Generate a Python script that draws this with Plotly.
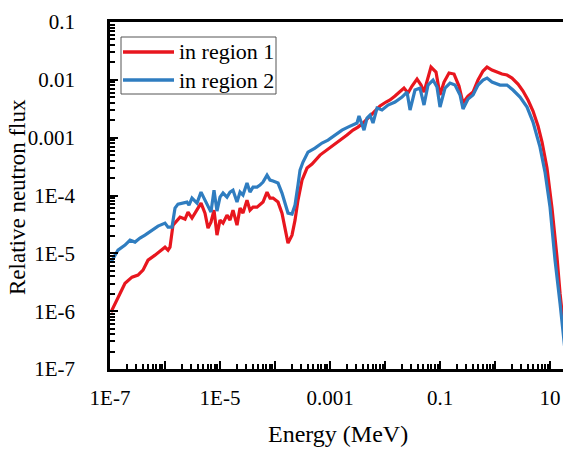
import numpy as np
import plotly.graph_objects as go

# Values, stored as log10 exponents
log_energy_r1 = [-6.982, -6.855, -6.727, -6.600, -6.491, -6.400, -6.309, -6.182, -6.055, -6.000,
                 -5.945, -5.909, -5.855, -5.782, -5.727, -5.636, -5.582, -5.509, -5.418, -5.345,
                 -5.273, -5.218, -5.164, -5.109, -5.055, -5.000, -4.945, -4.873, -4.818, -4.764,
                 -4.691, -4.636, -4.582, -4.509, -4.455, -4.400, -4.327, -4.273, -4.218, -4.145,
                 -4.091, -4.036, -3.945, -3.873, -3.818, -3.764, -3.691, -3.636, -3.582, -3.509,
                 -3.418, -3.327, -3.182, -3.055, -2.945, -2.818, -2.691, -2.582, -2.491, -2.400,
                 -2.309, -2.218, -2.091, -1.982, -1.909, -1.818, -1.727, -1.655, -1.582, -1.509,
                 -1.418, -1.345, -1.291, -1.236, -1.164, -1.073, -1.000, -0.927, -0.836, -0.745,
                 -0.655, -0.582, -0.491, -0.400, -0.309, -0.218, -0.145, -0.055, 0.036, 0.127,
                 0.218, 0.309, 0.418, 0.509, 0.600, 0.691, 0.782, 0.855, 0.945, 1.036,
                 1.127, 1.182, 1.273]
log_flux_r1 = [-6.017, -5.758, -5.516, -5.412, -5.377, -5.291, -5.118, -5.031, -4.945, -4.893,
               -4.945, -4.893, -4.512, -4.426, -4.374, -4.408, -4.287, -4.391, -4.253, -4.131,
               -4.305, -4.564, -4.460, -4.253, -4.685, -4.426, -4.478, -4.339, -4.426, -4.253,
               -4.512, -4.218, -4.304, -4.080, -4.253, -4.201, -4.201, -4.166, -4.114, -3.941,
               -4.045, -4.045, -4.114, -4.305, -4.547, -4.824, -4.685, -4.426, -4.080, -3.734,
               -3.526, -3.457, -3.301, -3.215, -3.128, -3.042, -2.955, -2.869, -2.817, -2.747,
               -2.661, -2.574, -2.453, -2.384, -2.349, -2.280, -2.211, -2.142, -2.228, -2.107,
               -1.986, -2.090, -2.211, -2.003, -1.779, -1.865, -2.263, -2.038, -1.882, -1.900,
               -2.107, -2.401, -2.280, -2.211, -2.003, -1.848, -1.779, -1.830, -1.865, -1.900,
               -1.917, -1.969, -2.073, -2.194, -2.349, -2.540, -2.799, -3.076, -3.526, -4.218,
               -5.066, -5.689, -6.502]

log_energy_r2 = [-6.982, -6.855, -6.727, -6.636, -6.545, -6.455, -6.364, -6.236, -6.127, -6.000,
                 -5.945, -5.873, -5.818, -5.764, -5.673, -5.600, -5.564, -5.509, -5.418, -5.345,
                 -5.291, -5.218, -5.164, -5.109, -5.055, -5.000, -4.945, -4.873, -4.818, -4.764,
                 -4.691, -4.636, -4.582, -4.509, -4.455, -4.400, -4.327, -4.273, -4.218, -4.145,
                 -4.091, -4.036, -3.945, -3.873, -3.818, -3.764, -3.691, -3.636, -3.582, -3.545,
                 -3.491, -3.400, -3.273, -3.145, -3.036, -2.909, -2.782, -2.673, -2.545, -2.509,
                 -2.473, -2.418, -2.382, -2.327, -2.273, -2.218, -2.145, -2.055, -1.945, -1.818,
                 -1.691, -1.600, -1.545, -1.455, -1.364, -1.291, -1.218, -1.127, -1.055, -1.000,
                 -0.909, -0.818, -0.727, -0.636, -0.582, -0.491, -0.400, -0.309, -0.218, -0.145,
                 -0.055, 0.091, 0.218, 0.327, 0.455, 0.582, 0.691, 0.818, 0.909, 1.000,
                 1.091, 1.182, 1.236, 1.291]
log_flux_r2 = [-5.152, -4.945, -4.858, -4.772, -4.806, -4.737, -4.685, -4.599, -4.529, -4.478,
               -4.547, -4.547, -4.218, -4.149, -4.131, -4.114, -4.166, -4.045, -4.131, -3.941,
               -4.045, -4.201, -4.287, -3.907, -4.270, -4.028, -3.958, -4.028, -3.941, -3.907,
               -4.114, -3.941, -3.993, -3.785, -3.941, -3.855, -3.855, -3.820, -3.768, -3.647,
               -3.734, -3.751, -3.785, -3.958, -4.131, -4.304, -4.322, -4.166, -3.820, -3.561,
               -3.422, -3.249, -3.180, -3.093, -3.042, -2.955, -2.869, -2.817, -2.765, -2.747,
               -2.626, -2.782, -2.869, -2.661, -2.609, -2.747, -2.488, -2.522, -2.436, -2.384,
               -2.298, -2.211, -2.522, -2.176, -2.142, -2.436, -2.090, -2.003, -2.125, -2.471,
               -2.142, -2.055, -2.090, -2.263, -2.505, -2.332, -2.263, -2.090, -2.003, -1.969,
               -2.038, -2.090, -2.090, -2.176, -2.298, -2.471, -2.730, -3.163, -3.595, -4.201,
               -5.118, -5.862, -6.329, -6.848]

series_names = ["in region 1", "in region 2"]
series_colors = ["#e8161e", "#2f7dc0"]

x_title = "Energy (MeV)"
y_title = "Relative neutron flux"
x_tickvals = [1e-7, 1e-6, 1e-5, 1e-4, 1e-3, 1e-2, 1e-1, 1, 10]
x_ticktext = ["1E-7", "", "1E-5", "", "0.001", "", "0.1", "", "10"]
y_tickvals = [1e-7, 1e-6, 1e-5, 1e-4, 1e-3, 1e-2, 1e-1]
y_ticktext = ["1E-7", "1E-6", "1E-5", "1E-4", "0.001", "0.01", "0.1"]

FONT = "Liberation Serif"

fig = go.Figure()
for le, lf, name, col in [(log_energy_r1, log_flux_r1, series_names[0], series_colors[0]),
                          (log_energy_r2, log_flux_r2, series_names[1], series_colors[1])]:
    fig.add_trace(go.Scatter(
        x=10 ** np.array(le), y=10 ** np.array(lf), mode="lines", name=name,
        line=dict(color=col, width=3.2), cliponaxis=True, showlegend=False))

axis_common = dict(
    showline=True, linecolor="black", linewidth=2.5, showgrid=False, zeroline=False,
    ticks="inside", ticklen=8, tickwidth=2, tickcolor="black", automargin=False,
    tickfont=dict(family=FONT, size=21, color="black"),
    minor=dict(ticks="inside", ticklen=5, tickwidth=1.5, tickcolor="black", dtick="D1", showgrid=False),
)

fig.update_xaxes(type="log", range=[-7, 1.236], tickmode="array",
                 tickvals=x_tickvals, ticktext=x_ticktext, mirror=True,
                 ticklabelstandoff=8, **axis_common)
fig.update_yaxes(type="log", range=[-7, -1], tickmode="array",
                 tickvals=y_tickvals, ticktext=y_ticktext,
                 ticklabelstandoff=28, **axis_common)

# Paper coordinates of the plot area (pixel helpers for layout placement)
def px_x(p):
    return (p - 110) / 453.0

def px_y(p):
    return 1 - (p - 22) / 347.0

shapes = [dict(type="rect", xref="paper", yref="paper",
               x0=px_x(121), x1=px_x(276), y0=px_y(94), y1=px_y(37),
               line=dict(color="#555555", width=1), fillcolor="white", layer="above")]
annotations = []
for i, (name, col) in enumerate(zip(series_names, series_colors)):
    yy = px_y(52 + 28 * i)
    shapes.append(dict(type="line", xref="paper", yref="paper",
                       x0=px_x(123), x1=px_x(174), y0=yy, y1=yy,
                       line=dict(color=col, width=3.5), layer="above"))
    annotations.append(dict(xref="paper", yref="paper", x=px_x(177), y=yy,
                            xanchor="left", yanchor="middle", showarrow=False,
                            text=name, font=dict(family=FONT, size=22, color="black")))

# Axis titles
annotations.append(dict(xref="paper", yref="paper", x=px_x(338), y=px_y(449),
                        xanchor="center", yanchor="bottom", showarrow=False,
                        text=x_title, font=dict(family=FONT, size=24, color="black")))
annotations.append(dict(xref="paper", yref="paper", x=px_x(17), y=px_y(197),
                        xanchor="center", yanchor="middle", showarrow=False, textangle=-90,
                        text=y_title, font=dict(family=FONT, size=23, color="black")))

fig.update_layout(
    width=563, height=449,
    font=dict(family=FONT, color="black"),
    margin=dict(l=110, r=0, t=22, b=80),
    paper_bgcolor="white", plot_bgcolor="white",
    showlegend=False,
    shapes=shapes, annotations=annotations,
)

fig.write_html("out.html")
